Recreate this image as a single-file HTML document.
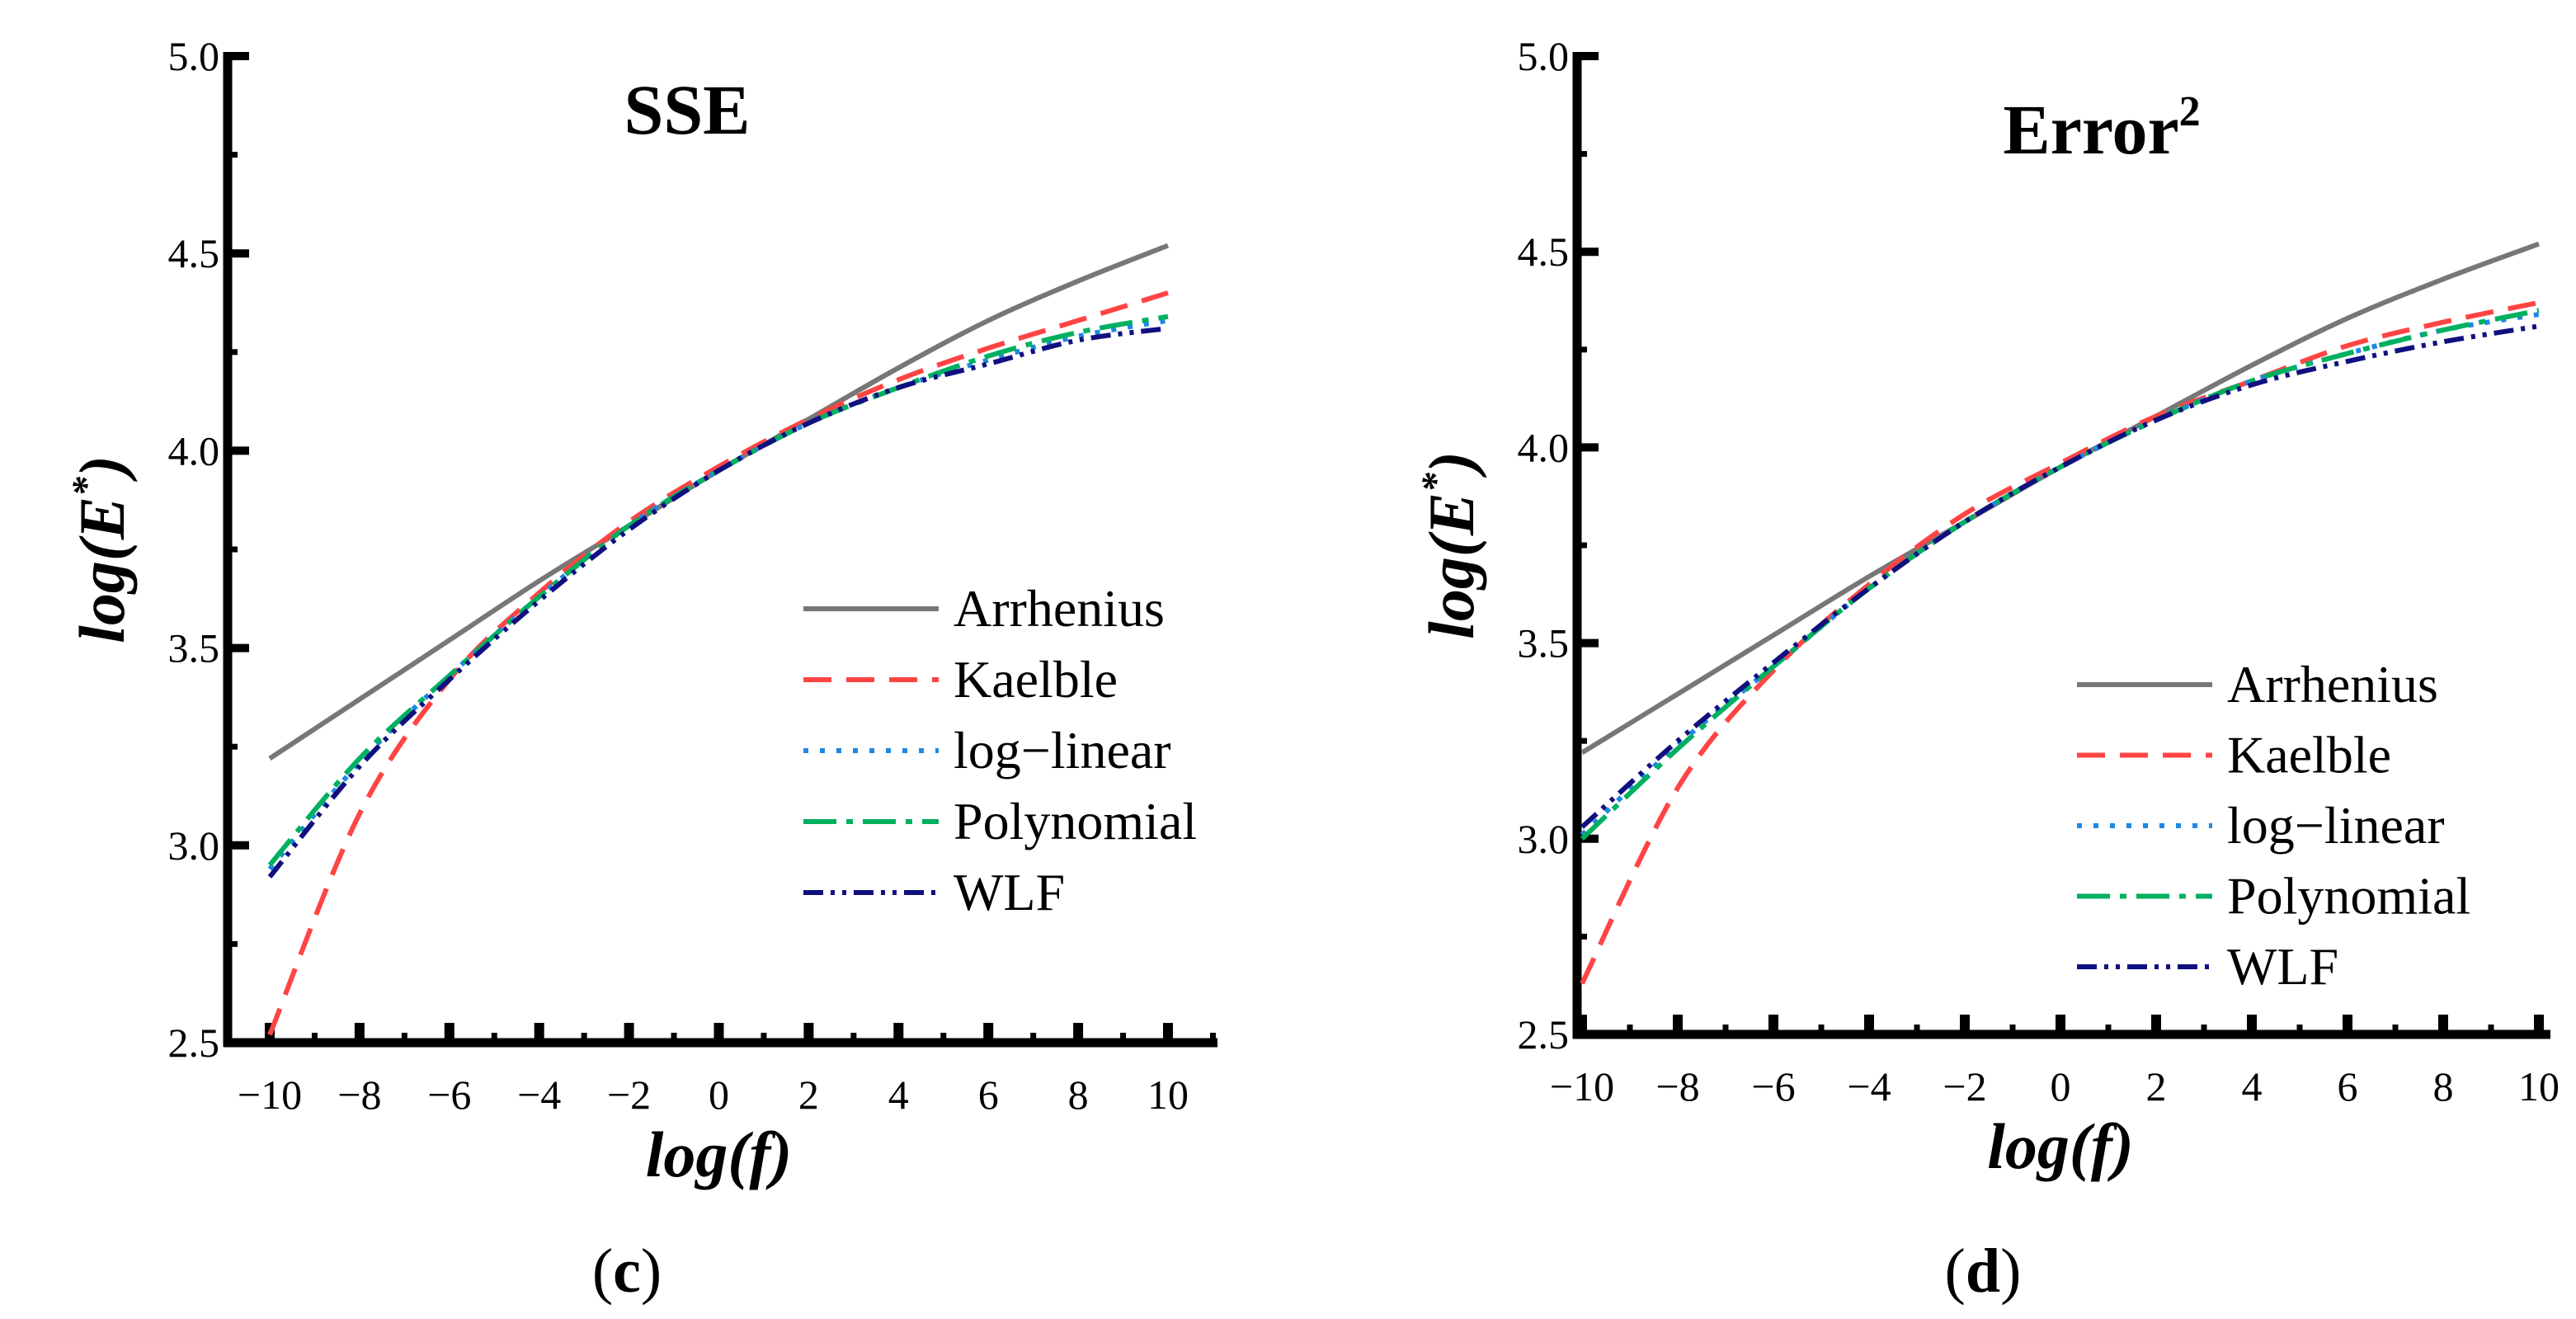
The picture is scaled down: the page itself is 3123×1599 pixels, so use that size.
<!DOCTYPE html>
<html><head><meta charset="utf-8"><style>
html,body{margin:0;padding:0;background:#fff;}
svg{display:block;font-family:"Liberation Serif",serif;}
</style></head><body>
<svg id="svg" width="3123" height="1599" viewBox="0 0 3123 1599" xmlns="http://www.w3.org/2000/svg"></svg>
<script>
const xVals = [-10,-8,-6,-4,-2,0,2,4,6,8,10];
const xTicks = [-10,-8,-6,-4,-2,0,2,4,6,8,10];
const yTicks = [2.5,3.0,3.5,4.0,4.5,5.0];
const seriesNames = ["Arrhenius","Kaelble","log\u2212linear","Polynomial","WLF"];
// panel c (SSE)
const cArrhenius = [3.22,3.37,3.52,3.67,3.81,3.95,4.08,4.21,4.33,4.43,4.52];
const cKaelble   = [2.52,3.08,3.42,3.64,3.82,3.96,4.08,4.18,4.26,4.33,4.40];
const cLogLinear = [2.94,3.21,3.43,3.63,3.81,3.95,4.07,4.16,4.23,4.29,4.33];
const cPolynomial= [2.95,3.22,3.43,3.63,3.81,3.95,4.07,4.16,4.24,4.30,4.34];
const cWLF       = [2.92,3.20,3.42,3.62,3.80,3.95,4.07,4.16,4.22,4.28,4.31];
// panel d (Error^2)
const dArrhenius = [3.22,3.37,3.52,3.67,3.81,3.95,4.08,4.21,4.33,4.43,4.52];
const dKaelble   = [2.63,3.13,3.43,3.65,3.83,3.96,4.08,4.17,4.26,4.32,4.37];
const dLogLinear = [3.01,3.24,3.44,3.64,3.81,3.95,4.07,4.17,4.24,4.30,4.34];
const dPolynomial= [3.00,3.23,3.44,3.64,3.81,3.95,4.07,4.17,4.24,4.30,4.35];
const dWLF       = [3.03,3.25,3.45,3.64,3.81,3.95,4.07,4.16,4.22,4.27,4.31];

const NS="http://www.w3.org/2000/svg";
const svg=document.getElementById('svg');
function el(tag,attrs,parent,text){const e=document.createElementNS(NS,tag);for(const k in attrs)e.setAttribute(k,attrs[k]);if(text!==undefined)e.textContent=text;(parent||svg).appendChild(e);return e;}
const styles=[
 {stroke:"#777777",dash:"",w:6},
 {stroke:"#ff4444",dash:"34 18",w:6},
 {stroke:"#1e88e5",dash:"6 14",w:6},
 {stroke:"#00b060",dash:"40 12 8 12",w:6},
 {stroke:"#101080",dash:"24 9 5 9 5 9",w:6}
];
function smooth(pts){let d=`M${pts[0][0]},${pts[0][1]}`;for(let i=0;i<pts.length-1;i++){const p0=pts[i-1]||pts[i],p1=pts[i],p2=pts[i+1],p3=pts[i+2]||p2;const c1=[p1[0]+(p2[0]-p0[0])/6,p1[1]+(p2[1]-p0[1])/6],c2=[p2[0]-(p3[0]-p1[0])/6,p2[1]-(p3[1]-p1[1])/6];d+=` C${c1[0]},${c1[1]} ${c2[0]},${c2[1]} ${p2[0]},${p2[1]}`;}return d;}
function panel(cfg){
 const g=el('g',{});
 
 
 const X=v=>cfg.x0+(v+10)/20*(cfg.x1-cfg.x0);
 const Y=v=>cfg.y0-(v-2.5)/2.5*(cfg.y0-cfg.y5);
 const ya=el('line',{x1:cfg.ax,y1:Y(5)-5,x2:cfg.ax,y2:cfg.y0+5,stroke:"#000","stroke-width":11},g);
 
 const xa=el('line',{x1:cfg.ax-5,y1:cfg.y0,x2:cfg.axEnd,y2:cfg.y0,stroke:"#000","stroke-width":11},g);
 
 for(let v=2.5;v<=5.001;v+=0.25){const maj=Math.abs(v*2-Math.round(v*2))<1e-6;el('line',{x1:cfg.ax,y1:Y(v),x2:cfg.ax+(maj?26:12),y2:Y(v),stroke:"#000","stroke-width":maj?10:7},g);}
 yTicks.forEach(v=>{const t=el('text',{x:cfg.ax-10,y:Y(v)+17,'text-anchor':'end','font-size':50},g,v.toFixed(1));});
 for(let v=-10;v<=cfg.xmax;v+=1){const maj=v%2===0;el('line',{x1:X(v),y1:cfg.y0,x2:X(v),y2:cfg.y0-(maj?24:12),stroke:"#000","stroke-width":maj?12:7},g);}
 xTicks.forEach(v=>{const t=el('text',{x:X(v),y:cfg.y0+80,'text-anchor':'middle','font-size':50},g,v<0?'\u2212'+(-v):String(v));});
 cfg.series.forEach((s,i)=>{const pts=xVals.map((x,j)=>[X(x),Y(s[j])]);const p=el('path',{d:smooth(pts),fill:'none',stroke:styles[i].stroke,'stroke-width':styles[i].w,'stroke-dasharray':styles[i].dash},g);});
 seriesNames.forEach((n,i)=>{const yy=cfg.ly+i*cfg.lsp;const l=el('line',{x1:cfg.lx,y1:yy,x2:cfg.lx+164,y2:yy,stroke:styles[i].stroke,'stroke-width':6,'stroke-dasharray':styles[i].dash},g);const t=el('text',{x:cfg.lx+182,y:yy+21,'font-size':64},g,n);});
 const tt=el('text',{x:cfg.tx,y:cfg.ty,'text-anchor':'middle','font-size':86,'font-weight':'bold'},g,cfg.title);
 if(cfg.sup){el('tspan',{'font-size':52,dy:-34},tt,cfg.sup);}
 
 const xt=el('text',{x:(X(-10)+X(10))/2,y:cfg.y0+162,'text-anchor':'middle','font-size':78,'font-weight':'bold','font-style':'italic'},g,'log(f)');
 
 const yt=el('text',{x:0,y:0,'text-anchor':'middle','font-size':78,'font-weight':'bold','font-style':'italic',transform:`translate(${cfg.ytx},${(Y(2.5)+Y(5))/2}) rotate(-90)`},g,'log(E');
 el('tspan',{'font-size':48,dy:-30},yt,'*');el('tspan',{dy:30},yt,')');
 
 const pl=el('text',{x:cfg.plx,y:1566,'text-anchor':'middle','font-size':76},g,'(');
 el('tspan',{'font-weight':'bold'},pl,cfg.label);el('tspan',{},pl,')');
 
}
panel({name:'panel-c-sse',ax:276,x0:327,x1:1416,axEnd:1476,xmax:11,y0:1264,y5:68,title:'SSE',tx:833,ty:162,lx:974,ly:738,lsp:86,ytx:150,plx:760,label:'c',series:[cArrhenius,cKaelble,cLogLinear,cPolynomial,cWLF]});
panel({name:'panel-d-error2',ax:1912,x0:1918,x1:3078,axEnd:3092,xmax:10,y0:1254,y5:68,title:'Error',sup:'2',tx:2548,ty:186,lx:2518,ly:830,lsp:85.5,ytx:1786,plx:2404,label:'d',series:[dArrhenius,dKaelble,dLogLinear,dPolynomial,dWLF]});
</script>
</body></html>
